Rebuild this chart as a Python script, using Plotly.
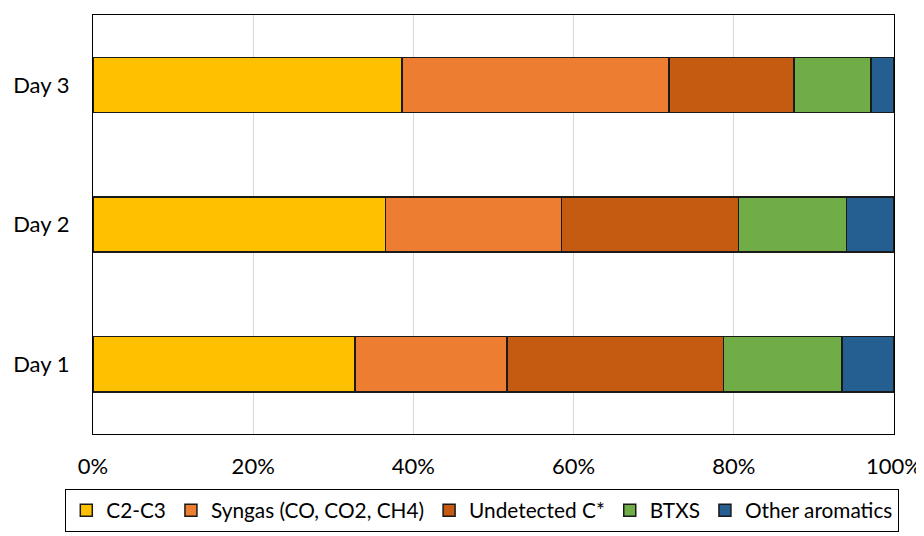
import plotly.graph_objects as go

days = ["Day 1", "Day 2", "Day 3"]
series_names = ["C2-C3", "Syngas (CO, CO2, CH4)", "Undetected C*", "BTXS", "Other aromatics"]
c2c3 = [32.7, 36.5, 38.6]
syngas = [19.0, 22.0, 33.3]
undetected = [27.0, 22.1, 15.6]
btxs = [14.8, 13.5, 9.6]
other_arom = [6.5, 5.9, 2.9]
x_ticks = [0, 20, 40, 60, 80, 100]
x_tick_labels = ["0%", "20%", "40%", "60%", "80%", "100%"]

colors = ["#FFC000", "#ED7D31", "#C55A11", "#70AD47", "#255E91"]
values = [c2c3, syngas, undetected, btxs, other_arom]

fig = go.Figure()
for name, vals, col in zip(series_names, values, colors):
    fig.add_trace(go.Bar(
        y=days, x=vals, name=name, orientation="h",
        marker=dict(color=col, line=dict(color="#1a1a1a", width=1.5)),
    ))

# the page body has an 8px margin, so the figure is sized to fill the rest
W, H = 916, 528
L, R, T, B = 85, 30, 7, 102
PW, PH = W - L - R, H - T - B
font_family = "Lato, 'Open Sans', sans-serif"
fig.update_layout(
    barmode="stack",
    bargap=0.605,
    width=W, height=H,
    margin=dict(l=L, r=R, t=T, b=B, autoexpand=False),
    paper_bgcolor="white", plot_bgcolor="white",
    font=dict(family=font_family, size=22, color="#000000"),
    showlegend=True,
    legend=dict(
        orientation="h", traceorder="normal",
        xref="paper", yref="paper",
        x=(57 - L) / PW, xanchor="left", y=-(481 - (T + PH)) / PH, yanchor="top",
        bordercolor="#000000", borderwidth=1.3,
        font=dict(family=font_family, size=20.8, color="#000000"),
        itemwidth=30, tracegroupgap=0,
    ),
    xaxis=dict(
        range=[0, 100], tickvals=x_ticks, ticktext=x_tick_labels,
        showgrid=True, gridcolor="#D9D9D9", gridwidth=1.3,
        showline=True, linecolor="#000000", linewidth=1.3, mirror=True,
        ticks="", ticklabelstandoff=12, zeroline=False, automargin=False,
    ),
    yaxis=dict(
        showgrid=False, showline=True, linecolor="#000000", linewidth=1.3, mirror=True,
        ticks="", ticklabelstandoff=18, automargin=False,
    ),
)

fig.write_html("out.html")
